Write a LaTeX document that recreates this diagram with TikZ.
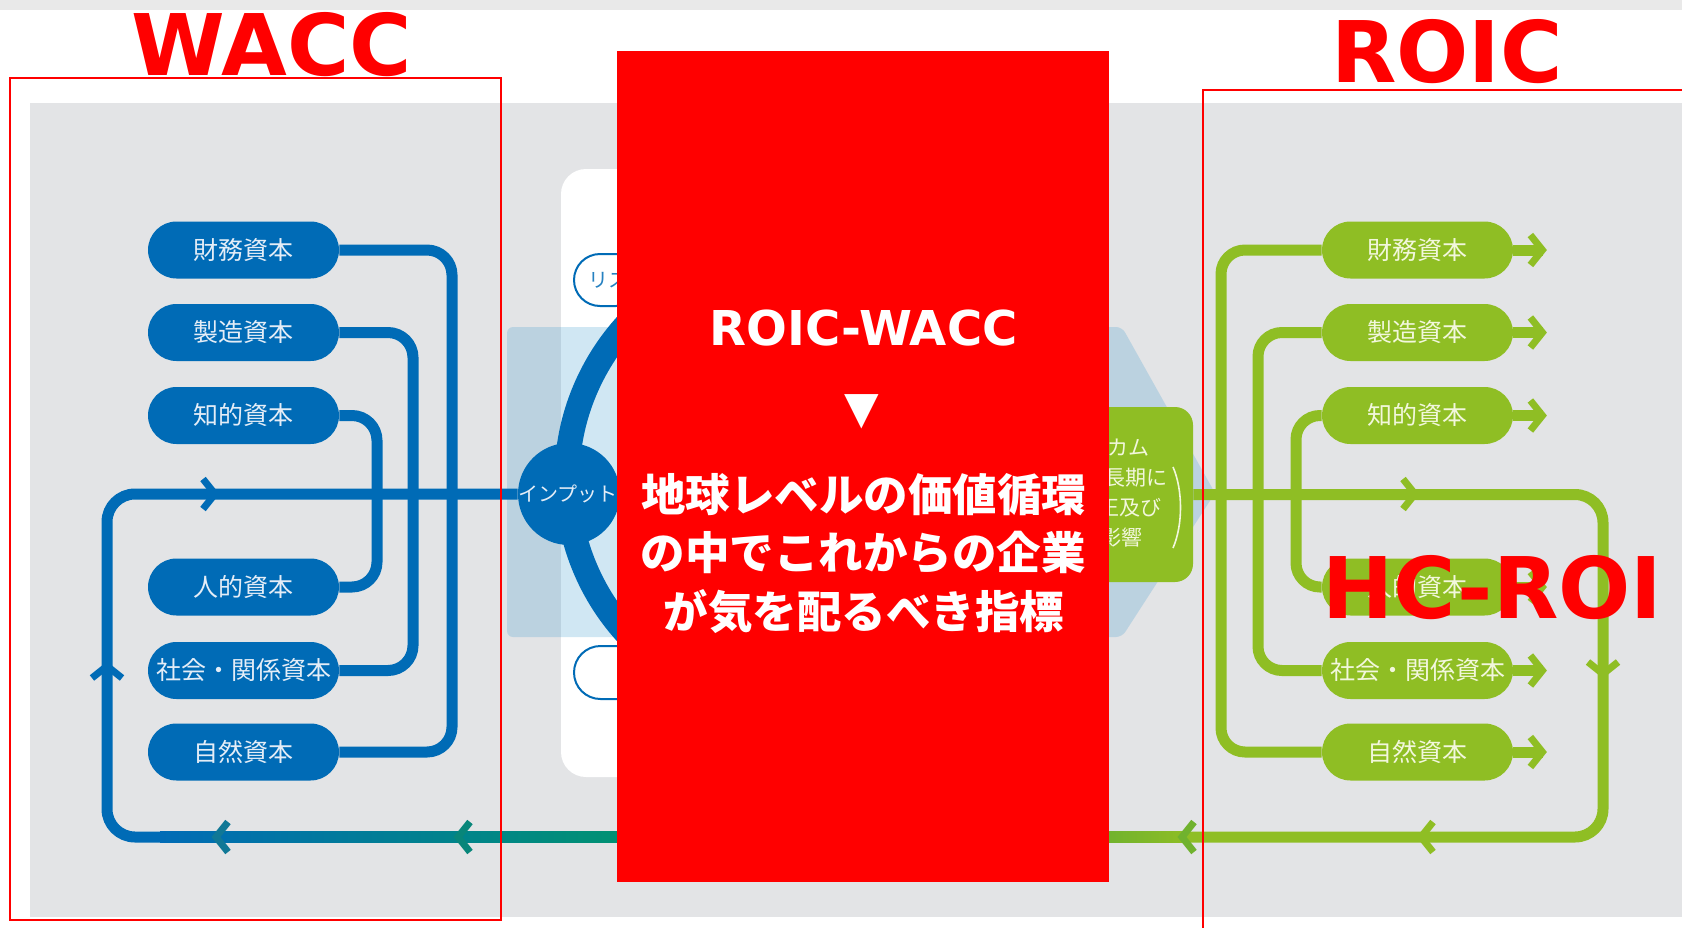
\documentclass[tikz,border=0pt]{standalone}
\usepackage{fontspec}
\newfontfamily\jpfont{Noto Sans CJK JP}
\newfontfamily\dvfont{DejaVu Sans}
\usetikzlibrary{calc}
\definecolor{cblue}{RGB}{0,107,182}
\definecolor{cgreen}{RGB}{143,190,36}
\definecolor{cteal}{RGB}{0,145,115}
\definecolor{cpanel}{RGB}{227,228,230}
\definecolor{ctop}{RGB}{233,233,233}
\definecolor{cred}{RGB}{255,0,0}
\definecolor{cltblue}{RGB}{70,160,210}
\definecolor{cteala}{RGB}{16,120,150}
\definecolor{ctealb}{RGB}{8,134,122}
\definecolor{cgdark}{RGB}{112,178,46}
\definecolor{cbtext}{RGB}{228,237,247}
\definecolor{cgtext}{RGB}{242,247,220}
\begin{document}
\begin{tikzpicture}[x=0.5pt,y=-0.5pt,
 bline/.style={draw=cblue, line width=5.5pt, rounded corners=12.5pt},
 gline/.style={draw=cgreen, line width=5.5pt, rounded corners=12pt},
 pillbase/.style={rounded corners=14.25pt, minimum width=95.5pt, minimum height=28.5pt, inner sep=0pt, font=\jpfont\fontsize{12.5pt}{14pt}\selectfont, text height=10.3pt, text depth=0.9pt},
 bpill/.style={pillbase, fill=cblue, text=cbtext},
 gpill/.style={pillbase, fill=cgreen, text=cgtext},
 bigtitle/.style={text=cred, font=\dvfont\bfseries\fontsize{42.5pt}{44pt}\selectfont, inner sep=0pt, anchor=base},
 gtxt/.style={text=cgtext, font=\jpfont\fontsize{10.5pt}{12pt}\selectfont, inner sep=0pt, anchor=base east},
 jbig/.style={text=white, font=\jpfont\bfseries\fontsize{22.25pt}{24pt}\selectfont, inner sep=0pt, anchor=base},
 outpill/.style={draw=cblue, line width=1pt, fill=white, inner ysep=0pt},
 chevr/.pic={\draw[line width=3.5pt, line join=miter, line cap=butt] (-12,-15) -- (0,0) -- (-12,15);},
]
\useasboundingbox (0,0) rectangle (1682,927);
% background
\fill[white] (0,0) rectangle (1682,927);
\fill[ctop] (0,0) rectangle (1682,10);
\fill[cpanel] (30,103) rectangle (1682,917);
\fill[white, rounded corners=12.5pt] (561,169) rectangle (1100,777);
\fill[cltblue, opacity=.25, rounded corners=3pt] (507,327) -- (1122,327) -- (1215,493) -- (1122,637) -- (507,637) -- cycle;

% column coordinates
\coordinate (vA) at (452,0);
\coordinate (vB) at (413,0);
\coordinate (vC) at (377,0);
\coordinate (vL) at (107,0);
\coordinate (vR) at (1603,0);
\coordinate (gA) at (1221,0);
\coordinate (gB) at (1258,0);
\coordinate (gC) at (1296,0);
\coordinate (bm) at (863,837);

% ring
\draw[cblue, line width=12.5pt] (796,479) ++(120:229) arc[start angle=120, end angle=240, radius=229];

% left pills
\node[bpill] (finL) at (243.5,250) {財務資本};
\node[bpill] (manL) at (243.5,332.5) {製造資本};
\node[bpill] (intL) at (243.5,415.5) {知的資本};
\node[bpill] (humL) at (243.5,587) {人的資本};
\node[bpill] (socL) at (243.5,670.5) {社会・関係資本};
\node[bpill] (natL) at (243.5,752) {自然資本};

% right pills
\node[gpill] (finR) at (1417.5,250) {財務資本};
\node[gpill] (manR) at (1417.5,332.5) {製造資本};
\node[gpill] (intR) at (1417.5,415.5) {知的資本};
\node[gpill] (humR) at (1417.5,587) {人的資本};
\node[gpill] (socR) at (1417.5,670.5) {社会・関係資本};
\node[gpill] (natR) at (1417.5,752) {自然資本};

% input circle and pills on ring
\node[circle, fill=cblue, minimum size=51pt, inner sep=0pt] (inp) at (569,494) {};
\node[text=cbtext, font=\jpfont\fontsize{10pt}{12pt}\selectfont, anchor=base west, inner sep=0pt] (inptxt) at (518,501) {インプット};
\node[outpill, rounded corners=13pt, minimum height=26pt, inner xsep=7pt, text=cblue!85!white, font=\jpfont\fontsize{10pt}{12pt}\selectfont, text height=8.3pt, text depth=0.7pt] (risk) at (608,280) {リス};
\node[outpill, rounded corners=13.25pt, minimum width=46pt, minimum height=26.5pt, inner xsep=0pt] (opp) at (620,672.5) {};

% outcome box
\node[fill=cgreen, rounded corners=9pt, minimum width=96.5pt, minimum height=87.5pt, inner sep=0pt] (outc) at (1096.5,494.5) {};
\node[gtxt] (o1) at (1150,455.5) {カム};
\node[gtxt] (o2) at (1168,485) {長期に};
\node[gtxt] (o3) at (1162,515) {正及び};
\node[gtxt] (o4) at (1143,545.5) {影響};
\draw[cgtext, line width=0.8pt] (1173,467) .. controls (1183,490) and (1183,525) .. (1173,548);

% blue connectors
\draw[bline] (finL.east) -- (finL.east -| vA) -- (natL.east -| vA) -- (natL.east);
\draw[bline] (manL.east) -- (manL.east -| vB) -- (socL.east -| vB) -- (socL.east);
\draw[bline] (intL.east) -- (intL.east -| vC) -- (humL.east -| vC) -- (humL.east);
\draw[bline, rounded corners=14pt] (bm) -- (bm -| vL) -- (inp.west -| vL) -- (inp.west);

% green connectors
\draw[gline] (finR.west) -- (finR.west -| gA) -- (natR.west -| gA) -- (natR.west);
\draw[gline] (manR.west) -- (manR.west -| gB) -- (socR.west -| gB) -- (socR.west);
\draw[gline] (intR.west) -- (intR.west -| gC) -- (humR.west -| gC) -- (humR.west);
\draw[gline, rounded corners=14pt] (outc.east) -- (outc.east -| vR) -- (bm -| vR) -- (bm);
\foreach \n in {finR,manR,intR,humR,socR,natR}{
  \draw[gline] (\n.east) -- ++(30,0);
  \pic[color=cgreen] at ($(\n.east)+(29,0)$) {chevr};
}

% colour blends on the bottom line
\shade[left color=cblue, right color=cteal] (160,831.5) rectangle (620,842.5);
\shade[left color=cgdark, right color=cgreen] (1105,831.5) rectangle (1190,842.5);

% chevrons on the loops
\pic[color=cblue] at (215,494) {chevr};
\pic[color=cblue, rotate=90] at (107,666) {chevr};
\pic[color=cteala, rotate=180] at (216,837) {chevr};
\pic[color=ctealb, rotate=180] at (458,837) {chevr};
\pic[color=cgreen] at (1415,494) {chevr};
\pic[color=cgreen, rotate=-90] at (1603,674) {chevr};
\pic[color=cgdark, rotate=180] at (1182,837) {chevr};
\pic[color=cgreen, rotate=180] at (1421,837) {chevr};

% central red panel
\node[fill=cred, minimum width=246pt, minimum height=415.5pt, inner sep=0pt] (core) at (863,466.5) {};
\node[text=white, font=\dvfont\bfseries\fontsize{24pt}{26pt}\selectfont, anchor=base, inner sep=0pt] (rw) at (863.5,345) {ROIC-WACC};
\node[text=white, font=\dvfont\fontsize{22.5pt}{24pt}\selectfont, inner sep=0pt] (tri) at (862,412) {▼};
\node[jbig] (l1) at (863.5,511) {地球レベルの価値循環};
\node[jbig] (l2) at (863,569.5) {の中でこれからの企業};
\node[jbig] (l3) at (864,628) {が気を配るべき指標};

% frames and titles
\draw[cred, line width=1pt] (10,78) rectangle (501,920);
\draw[cred, line width=1pt] (1203,90) rectangle (1720,960);
\node[bigtitle] (wacc) at (271.5,75) {WACC};
\node[bigtitle] (roic) at (1447,82) {ROIC};
\node[bigtitle] (hcroi) at (1492.5,618) {HC-ROI};
\end{tikzpicture}
\end{document}
